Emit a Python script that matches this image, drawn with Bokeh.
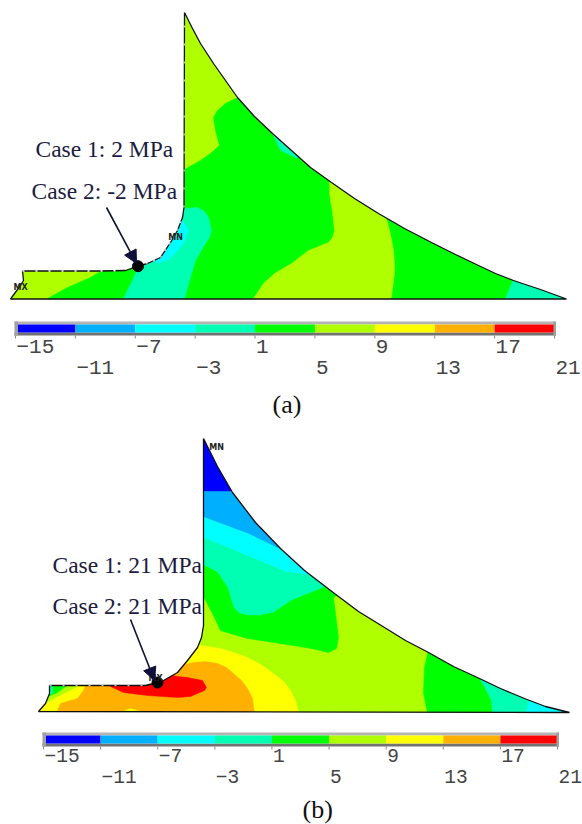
from bokeh.plotting import figure
from bokeh.embed import file_html
from bokeh.resources import INLINE
from bokeh.models import Range1d, Arrow, NormalHead
from bokeh.core.properties import value

# ---- stress scale (MPa) ----
levels = [-15, -11, -7, -3, 1, 5, 9, 13, 17, 21]
band_colors = ["#0000FF", "#00B0FF", "#00FFFF", "#00FFB2", "#00FF00",
               "#B0FF00", "#FFFF00", "#FFB000", "#FF0000"]
B, SKY, CY, TEAL, GRN, LIME, YEL, ORG, RED = band_colors

# ---- model outlines ----
outline_a_x = [184, 192, 200, 213, 225, 237, 254, 272, 291, 310, 331, 354, 378, 404, 431, 455, 478, 495, 513, 540, 566, 10, 20, 23, 22, 100, 125, 137.5, 147, 160, 170, 177, 182, 183.5, 184]
outline_a_y = [12, 28, 43, 63, 80, 97, 116, 133, 150, 167, 182, 198, 213, 228, 242, 254, 265, 273, 280, 289, 298.5, 298.5, 285, 280, 270.5, 270.5, 270, 265.7, 263, 257, 242, 230, 217, 207, 12]
outline_b_x = [203, 217, 232, 255, 280, 304, 334, 358, 384, 405, 428, 453, 479, 500, 524, 545, 569, 38, 45, 49, 49, 100, 145, 157, 163, 177, 187, 197, 201, 203, 203]
outline_b_y = [438, 466, 492, 522, 548, 570, 593, 611, 627, 640, 652, 666, 678, 688, 698, 706, 712, 711, 703, 693, 685, 685, 685, 682, 680, 672, 660, 647, 637, 625, 438]

# ---- contour bands, painted back to front: (colour, xs, ys) ----
bands_a = [
    (LIME, [6, 578, 578, 6], [10, 10, 304, 304]),
    (GRN, [300, 237, 225, 217, 213, 215, 219, 210, 200, 184, 170, 100, 100, 90, 67, 47, 47, 530, 530],
          [100, 97, 103, 110, 117, 130, 145, 153, 160, 169, 200, 260, 271, 277, 287, 298, 304, 304, 270]),
    (TEAL, [272, 280, 291, 296, 310, 280], [133, 150, 155, 158, 140, 120]),
    (LIME, [329, 329, 332, 334, 332, 328, 318, 308, 291, 274, 263, 253, 253, 390, 394, 394, 393, 390, 386, 360],
           [170, 193, 212, 230, 237, 242, 246, 250, 263, 273, 283, 298, 304, 304, 273, 262, 250, 234, 218, 190]),
    (TEAL, [513, 505, 505, 575, 575], [279, 298, 304, 304, 270]),
    (TEAL, [170, 184, 197, 204, 208, 211, 209, 205, 195, 190, 184, 184, 123, 123, 132, 137, 150],
           [200, 208, 207, 211, 217, 230, 237, 243, 260, 277, 298, 304, 304, 298, 280, 268, 250]),
    (CY, [176, 182, 188, 183, 170, 157, 150, 165], [205, 220, 230, 243, 258, 263, 255, 220]),
]
bands_b = [
    (LIME, [30, 578, 578, 30], [432, 432, 714, 714]),
    (B, [190, 260, 260, 232, 220, 204, 190], [432, 432, 491, 491, 493, 491, 491]),
    (SKY, [190, 190, 204, 220, 247, 280, 300, 300, 232], [491, 517, 517, 523, 533, 549, 560, 530, 491]),
    (CY, [190, 190, 204, 227, 253, 287, 311, 330, 300, 280, 247, 220, 204], [517, 538, 538, 547, 558, 572, 575, 575, 555, 549, 533, 523, 517]),
    (TEAL, [190, 190, 204, 217, 227, 233, 239, 247, 260, 273, 291, 311, 328, 340, 330, 311, 287, 253, 227, 204],
           [538, 565, 565, 572, 587, 607, 613, 615, 615, 612, 600, 592, 585, 580, 570, 575, 572, 558, 547, 538]),
    (GRN, [190, 190, 204, 212, 220, 233, 247, 280, 311, 328, 336, 338, 333, 345, 328, 311, 291, 273, 260, 247, 239, 233, 227, 217, 204],
          [565, 598, 598, 613, 630, 634, 638, 643, 648, 652, 648, 637, 597, 590, 585, 592, 600, 612, 615, 615, 613, 607, 587, 572, 565]),
    (YEL, [190, 200, 220, 233, 247, 260, 273, 283, 290, 295, 298, 298, 36, 36], [640, 645, 648, 652, 657, 664, 673, 681, 690, 700, 712, 714, 714, 680]),
    (ORG, [175, 180, 193, 205, 217, 226, 233, 241, 247, 252, 254, 254, 57, 57, 60, 77, 83, 85, 85],
          [660, 665, 662, 661, 663, 667, 673, 680, 688, 698, 712, 714, 714, 710, 703, 698, 690, 685, 670]),
    (YEL, [120, 130, 143, 143, 120], [712, 708, 712, 714, 714]),
    (RED, [110, 123, 147, 177, 190, 197, 204, 206, 202, 187, 177, 150, 105], [686, 692, 695, 697, 696, 693, 690, 687, 680, 677, 676, 670, 680]),
    (LIME, [44, 44, 50, 63, 75, 80, 80], [682, 703, 700, 693, 687, 682, 680]),
    (GRN, [44, 44, 50, 57, 65, 65], [682, 698, 695, 692, 686, 682]),
    (TEAL, [44, 44, 52, 52], [682, 695, 693, 682]),
    (CY, [47, 47, 50, 50], [682, 688, 688, 682]),
    (GRN, [429, 424, 423, 427, 427, 492, 492, 491, 486, 479, 470], [645, 667, 693, 712, 714, 714, 712, 700, 690, 678, 650]),
    (TEAL, [479, 486, 491, 492, 492, 526, 526, 529, 520], [678, 690, 700, 712, 714, 714, 712, 698, 680]),
    (CY, [529, 526, 526, 575, 575], [698, 712, 714, 714, 700]),
]

notes = ["Case 1: 2 MPa", "Case 2: -2 MPa", "Case 1: 21 MPa", "Case 2: 21 MPa", "(a)", "(b)"]
note_x = [35, 31, 52, 52, 272, 302]
note_y = [158, 200, 574, 615, 415, 820]
note_size = [23.5, 23.5, 23.5, 23.5, 26, 26]
note_col = ["#1c1c40"] * 4 + ["#111111"] * 2

W, H = 582, 824
p = figure(width=W, height=H, output_backend="svg", toolbar_location=None,
           x_range=Range1d(0, W), y_range=Range1d(H, 0),
           x_axis_location=None, y_axis_location=None,
           min_border=0, outline_line_color=None, background_fill_color="white")
p.xgrid.visible = False
p.ygrid.visible = False
BASE_SHIFT = -0.42  # em, brings the alphabetic baseline to the given y


def scale_range(px_lo, px_hi):
    k = (levels[-1] - levels[0]) / (px_hi - px_lo)
    return Range1d(levels[0] - px_lo * k, levels[0] + (W - px_lo) * k)


def panel(bands, ox, oy, box):
    for col, xs, ys in bands:
        p.patch(xs, ys, fill_color=col, line_color=col, line_width=0.5)
    rx = [box[0], box[1], box[1], box[0]]
    ry = [box[2], box[2], box[3], box[3]]
    p.multi_polygons(xs=[[[rx, ox]]], ys=[[[ry, oy]]], fill_color="white", line_color=None)
    p.line(ox, oy, line_color="#101010", line_width=1.3)


panel(bands_a, outline_a_x, outline_a_y, (2, 582, 4, 308))
panel(bands_b, outline_b_x, outline_b_y, (2, 582, 426, 718))

# dashed look of the free edges
p.line(outline_a_x[24:27], outline_a_y[24:27], line_color="white", line_width=1.5, line_dash="2 11")
p.line(outline_a_x[-2:], outline_a_y[-2:], line_color="white", line_width=1.2, line_dash="2 16", line_alpha=0.8)
p.line(outline_a_x[27:33], outline_a_y[27:33], line_color="white", line_width=1.2, line_dash="2 6", line_alpha=0.8)
p.line(outline_b_x[20:23], outline_b_y[20:23], line_color="white", line_width=1.3, line_dash="2 11", line_alpha=0.7)


def colorbar(name, px_lo, px_hi, left, right, start, top, bot, end, rows, size):
    p.extra_x_ranges[name] = scale_range(px_lo, px_hi)
    p.quad(left=[left], right=[right], top=[top], bottom=[start], fill_color="#b4b4b4", line_color=None)
    p.quad(left=[left], right=[right], top=[end], bottom=[bot], fill_color="#727272", line_color=None)
    p.quad(left=levels[:-1], right=levels[1:], top=top, bottom=bot, fill_color=band_colors,
           line_color=None, x_range_name=name)
    p.quad(left=[left], right=[left + 3.5], top=[end], bottom=[start], fill_color="#a0a0a0", line_color=None)
    p.quad(left=[right - 2.5], right=[right], top=[end], bottom=[start], fill_color="#a0a0a0", line_color=None)
    p.segment(x0=levels, x1=levels, y0=end, y1=end + 3, line_color="#888888", line_width=1, x_range_name=name)
    minus = [str(v).replace("-", "\u2212") for v in levels]
    ys = [rows[i % 2] for i in range(len(levels))]
    p.text(x=levels, y=ys, text=minus, x_offset=1, y_offset=BASE_SHIFT * size, text_font=value("Liberation Mono"),
           text_font_size=f"{size}px", text_color="#444444", text_baseline="alphabetic",
           text_align="left", x_range_name=name)


colorbar("bar_a", 15, 554, 14, 555.5, 321, 324, 332, 335, (355, 376), 21)
colorbar("bar_b", 43, 557, 42, 558.5, 732, 735, 743, 746, (763, 784), 19.5)

# annotation arrows and probe points
for x0, y0, x1, y1 in [(106, 207, 136, 263), (130, 619, 154, 680)]:
    p.add_layout(Arrow(end=NormalHead(size=13, fill_color="#10103a", line_color="#10103a"),
                       x_start=x0, y_start=y0, x_end=x1, y_end=y1,
                       line_color="#10103a", line_width=1.6))
p.scatter([137.5, 157], [265.7, 682], size=11, color="black")

# solver's min/max flags
flag_x = [20, 175, 216, 155]
flag_y = [287, 237, 447, 678]
flag_t = ["MX", "MN", "MN", "MX"]
p.text(x=flag_x, y=flag_y, text=flag_t, text_font=value("DejaVu Sans"), text_font_size="8px",
       text_font_style="bold", text_color="#222222", text_align="center", text_baseline="middle")

for t, x, y, s, c in zip(notes, note_x, note_y, note_size, note_col):
    p.text(x=[x], y=[y], text=[t], y_offset=BASE_SHIFT * s, text_font=value("Liberation Serif"),
           text_font_size=f"{s}px", text_color=c, text_baseline="alphabetic", text_align="left")

open("out.html", "w").write(file_html(p, INLINE))
